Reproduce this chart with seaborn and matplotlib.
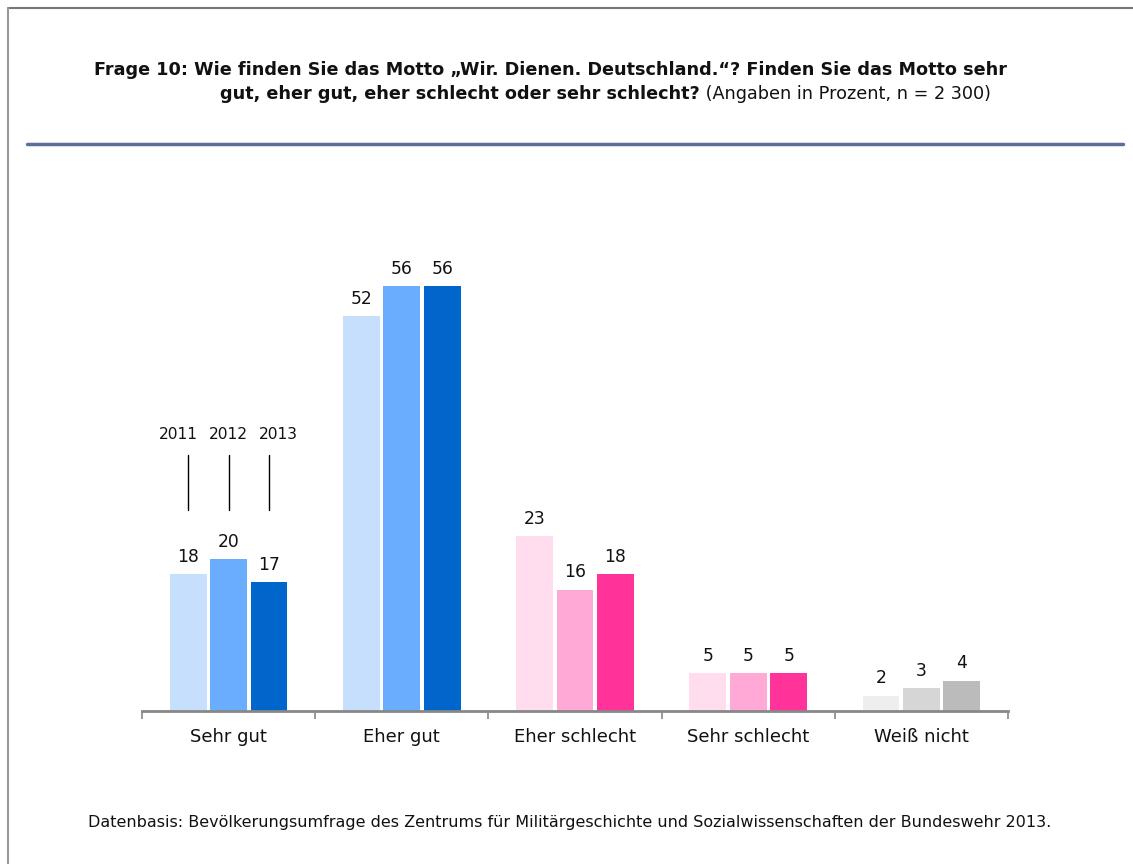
import matplotlib
matplotlib.use("Agg")
import matplotlib.pyplot as plt
import seaborn as sns
import pandas as pd
from matplotlib.lines import Line2D

categories = ["Sehr gut", "Eher gut", "Eher schlecht", "Sehr schlecht", "Weiß nicht"]
years = ["2011", "2012", "2013"]
values_2011 = [18, 52, 23, 5, 2]
values_2012 = [20, 56, 16, 5, 3]
values_2013 = [17, 56, 18, 5, 4]

blue_shades = ["#C5DFFD", "#6AADFE", "#0066CC"]
pink_shades = ["#FFDDEE", "#FFAAD6", "#FF3399"]
grey_shades = ["#EEEEEE", "#D6D6D6", "#BBBBBB"]
category_colors = [blue_shades, blue_shades, pink_shades, pink_shades, grey_shades]

title_bold_1 = "Frage 10: Wie finden Sie das Motto \u201eWir. Dienen. Deutschland.\u201c? Finden Sie das Motto sehr"
title_bold_2 = "gut, eher gut, eher schlecht oder sehr schlecht?"
title_normal_2 = " (Angaben in Prozent, n = 2 300)"
footnote = "Datenbasis: Bevölkerungsumfrage des Zentrums für Militärgeschichte und Sozialwissenschaften der Bundeswehr 2013."

sns.set_theme(style="white")
plt.rcParams["font.family"] = ["DejaVu Sans"]

df = pd.DataFrame({
    "Kategorie": categories * 3,
    "Jahr": [y for y in years for _ in categories],
    "Wert": values_2011 + values_2012 + values_2013,
})

W, H = 1133, 864
fig = plt.figure(figsize=(W / 100, H / 100), dpi=100)
fig.patch.set_facecolor("white")
TXT = "#111111"


def fit_width(t, target_px):
    fig.canvas.draw()
    w = t.get_window_extent().width
    t.set_fontsize(t.get_fontsize() * target_px / w)


ax = fig.add_axes([142 / W, (H - 711) / H, 866 / W, 551 / H])
sns.barplot(data=df, x="Kategorie", y="Wert", hue="Jahr", order=categories,
            hue_order=years, width=0.7, gap=0.09, palette=blue_shades,
            linewidth=0, legend=False, ax=ax, errorbar=None)

for yi, cont in enumerate(ax.containers):
    for ci, bar in enumerate(cont):
        bar.set_facecolor(category_colors[ci][yi])
        bar.set_edgecolor("none")
    ax.bar_label(cont, labels=[str(int(v)) for v in cont.datavalues],
                 padding=6, fontsize=12.3, color=TXT)

ax.set_xlim(-0.5, 4.5)
ax.set_ylim(0, 72.6)
ax.set_xlabel("")
ax.set_ylabel("")
ax.set_yticks([])
for s in ["top", "right", "left"]:
    ax.spines[s].set_visible(False)
ax.spines["bottom"].set_color("#888888")
ax.spines["bottom"].set_linewidth(2)
ax.set_xticks([-0.5, 0.5, 1.5, 2.5, 3.5, 4.5], minor=False)
ax.set_xticklabels([])
ax.set_xticks(range(len(categories)), minor=True)
ax.set_xticklabels(categories, minor=True, fontsize=13, color=TXT)
ax.tick_params(axis="x", which="major", direction="out", length=6, width=1.2,
               color="#888888", bottom=True)
ax.tick_params(axis="x", which="minor", length=0, pad=12)

# year annotations above "Sehr gut"
label_offsets = [-0.29, 0.0, 0.285]
first_bars = [cont[0] for cont in ax.containers]
for yi, bar in enumerate(first_bars):
    cx = bar.get_x() + bar.get_width() / 2
    ax.plot([cx, cx], [26.5, 33.7], color="black", lw=1, clip_on=False)
    ax.text(label_offsets[yi], 36.4, years[yi], ha="center", va="center",
            fontsize=11.2, color=TXT, clip_on=False)

# frame lines (top and left) and header rule
fig.add_artist(Line2D([8 / W, 1], [1 - 8 / H, 1 - 8 / H], color="#777777", lw=1.5))
fig.add_artist(Line2D([8 / W, 8 / W], [0, 1 - 8 / H], color="#999999", lw=1.5))
fig.add_artist(Line2D([27 / W, 1123 / W], [1 - 144 / H, 1 - 144 / H], color="#5B6E9C", lw=2.5))

# title
t1 = fig.text(94 / W, 1 - 70 / H, title_bold_1, fontsize=11, fontweight="bold",
              va="center", ha="left", color=TXT)
fit_width(t1, 908)
fs_title = t1.get_fontsize()
t2 = fig.text(220 / W, 1 - 94 / H, title_bold_2, fontsize=fs_title, fontweight="bold",
              va="center", ha="left", color=TXT)
fig.canvas.draw()
bb = t2.get_window_extent()
fig.text(bb.x1 / W, 1 - 94 / H, title_normal_2, fontsize=fs_title, va="center", ha="left",
         color=TXT)

fn = fig.text(88 / W, 1 - 822 / H, footnote, fontsize=10, va="center", ha="left", color=TXT)
fit_width(fn, 955)

fig.savefig("out.png", dpi=100, facecolor="white")
